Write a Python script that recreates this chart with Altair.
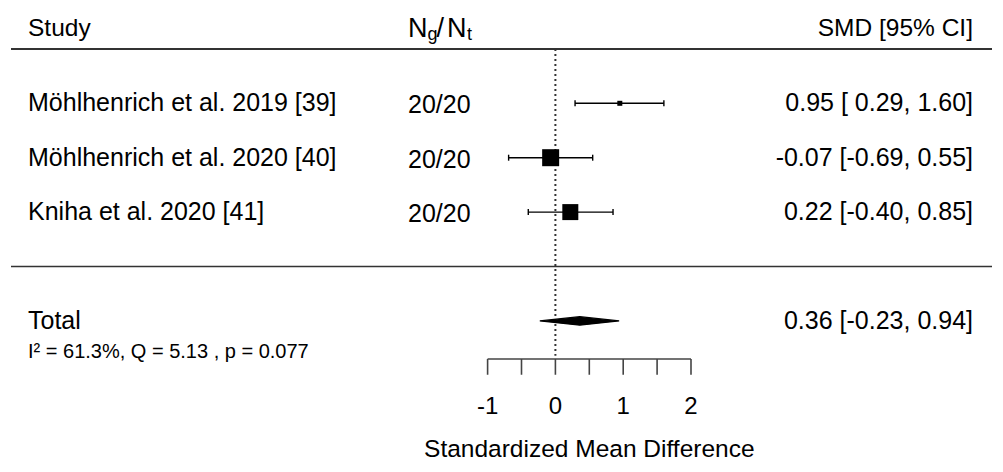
import altair as alt
import pandas as pd

# ---------------- data ----------------
studies = ["Möhlhenrich et al. 2019 [39]", "Möhlhenrich et al. 2020 [40]", "Kniha et al. 2020 [41]"]
n_ratio = ["20/20", "20/20", "20/20"]
smd = [0.95, -0.07, 0.22]
ci_low = [0.29, -0.69, -0.40]
ci_high = [1.60, 0.55, 0.85]
weight = [4.4, 50.7, 44.9]

total_label = "Total"
total_smd = 0.36
total_low = -0.23
total_high = 0.94
het_text = "I² = 61.3%, Q = 5.13 , p  = 0.077"

tick_values = [-1, -0.5, 0, 0.5, 1, 1.5, 2]
label_values = [-1, 0, 1, 2]
tick_labels = ["-1", "0", "1", "2"]
axis_title = "Standardized Mean Difference"

# ---------------- layout (style) ----------------
W, H = 987, 448
PX_PER_UNIT = 67.8
PX_OF_MINUS1 = 479.6
ROW_PX = 54.4
ROW1_PX = 95.3
xmin = -1 - PX_OF_MINUS1 / PX_PER_UNIT
xmax = -1 + (W - PX_OF_MINUS1) / PX_PER_UNIT
ymin = 1 - ROW1_PX / ROW_PX
ymax = 1 + (H - ROW1_PX) / ROW_PX

FONT = "Liberation Sans"
FS = 25
XS = alt.Scale(domain=[xmin, xmax], nice=False, zero=False)
YS = alt.Scale(domain=[ymin, ymax], nice=False, zero=False, reverse=True)


def X(f):
    return alt.X(f, type="quantitative", scale=XS, axis=None)


def Y(f):
    return alt.Y(f, type="quantitative", scale=YS, axis=None)


study_rows = [1, 2, 3]
TOTAL_ROW = 5
HEADER_LINE_ROW = 0
SEP_ROW = 4
HET_ROW = 5.57
AXIS_ROW = 5.70
TICK_END_ROW = 5.99
TICKLAB_ROW = 6.59
TITLE_ROW = 7.37
ZERO_END_ROW = 5.64
CAP_HALF = 0.055
DIAM_HALF = 0.078

df = pd.DataFrame({
    "study": studies, "n": n_ratio, "smd": smd, "lo": ci_low, "hi": ci_high,
    "w": weight, "row": study_rows,
})
df["ci"] = [f"{m:.2f} [{l:5.2f}, {h:.2f}]" for m, l, h in zip(smd, ci_low, ci_high)]

tot = pd.DataFrame({
    "label": [total_label], "row": [TOTAL_ROW],
    "ci": [f"{total_smd:.2f} [{total_low:5.2f}, {total_high:.2f}]"],
})
diam = pd.DataFrame({
    "x": [total_low, total_smd, total_high],
    "half": [0.0, DIAM_HALF, 0.0],
    "row": [TOTAL_ROW] * 3,
})

layers = []

# horizontal separator lines
lines = pd.DataFrame({"row": [HEADER_LINE_ROW, SEP_ROW], "sw": [2.0, 1.6]})
layers.append(
    alt.Chart(lines).mark_rule(color="#333333").encode(
        x=alt.value(3), x2=alt.value(984), y=Y("row"),
        strokeWidth=alt.StrokeWidth("sw:Q", scale=None),
    )
)

# dotted null line
zero = pd.DataFrame({"x": [0], "r1": [HEADER_LINE_ROW], "r2": [ZERO_END_ROW]})
layers.append(
    alt.Chart(zero).mark_rule(color="#333333", strokeWidth=2, strokeDash=[2, 3]).encode(
        x=X("x"), y=Y("r1"), y2=alt.Y2("r2")
    )
)

# CI whiskers
layers.append(
    alt.Chart(df).mark_rule(color="black", strokeWidth=1.4).encode(
        x=X("lo"), x2=alt.X2("hi"), y=Y("row")
    )
)
# caps
layers.append(
    alt.Chart(df).transform_fold(["lo", "hi"], as_=["end", "v"]).transform_calculate(
        a=f"datum.row - {CAP_HALF}", b=f"datum.row + {CAP_HALF}"
    ).mark_rule(color="black", strokeWidth=1.4).encode(
        x=X("v"), y=Y("a"), y2=alt.Y2("b")
    )
)
# squares
layers.append(
    alt.Chart(df).mark_square(color="black", filled=True, opacity=1).encode(
        x=X("smd"), y=Y("row"),
        size=alt.Size("w:Q", scale=alt.Scale(domain=[0, max(weight)], range=[0, 17 ** 2]), legend=None),
    )
)
# diamond
layers.append(
    alt.Chart(diam).transform_calculate(
        a="datum.row - datum.half", b="datum.row + datum.half"
    ).mark_area(color="black", orient="vertical", stroke="black", strokeWidth=1.2).encode(
        x=X("x"), y=Y("a"), y2=alt.Y2("b")
    )
)

# custom x axis
axl = pd.DataFrame({"a": [min(tick_values)], "b": [max(tick_values)], "row": [AXIS_ROW]})
layers.append(
    alt.Chart(axl).mark_rule(color="#444444", strokeWidth=1.6).encode(
        x=X("a"), x2=alt.X2("b"), y=Y("row")
    )
)
ticks = pd.DataFrame({"v": tick_values, "r1": [AXIS_ROW] * len(tick_values), "r2": [TICK_END_ROW] * len(tick_values)})
layers.append(
    alt.Chart(ticks).mark_rule(color="#444444", strokeWidth=1.6).encode(
        x=X("v"), y=Y("r1"), y2=alt.Y2("r2")
    )
)
tlab = pd.DataFrame({"v": label_values, "lab": tick_labels, "row": [TICKLAB_ROW] * len(label_values)})
layers.append(
    alt.Chart(tlab).mark_text(font=FONT, fontSize=24, color="black", baseline="middle", align="center").encode(
        x=X("v"), y=Y("row"), text="lab:N"
    )
)
ttl = pd.DataFrame({"v": [(min(tick_values) + max(tick_values)) / 2], "t": [axis_title], "row": [TITLE_ROW]})
layers.append(
    alt.Chart(ttl).mark_text(font=FONT, fontSize=24.5, color="black", baseline="middle", align="center").encode(
        x=X("v"), y=Y("row"), text="t:N"
    )
)

# study text columns
layers.append(
    alt.Chart(df).mark_text(font=FONT, fontSize=FS, color="black", baseline="middle", align="left").encode(
        x=alt.value(20), y=Y("row"), text="study:N"
    )
)
layers.append(
    alt.Chart(df).mark_text(font=FONT, fontSize=FS, color="black", baseline="middle", align="left", dy=2).encode(
        x=alt.value(400), y=Y("row"), text="n:N"
    )
)
layers.append(
    alt.Chart(df).mark_text(font=FONT, fontSize=FS, color="black", baseline="middle", align="right").encode(
        x=alt.value(965), y=Y("row"), text="ci:N"
    )
)
# total row
layers.append(
    alt.Chart(tot).mark_text(font=FONT, fontSize=FS, color="black", baseline="middle", align="left").encode(
        x=alt.value(20), y=Y("row"), text="label:N"
    )
)
layers.append(
    alt.Chart(tot).mark_text(font=FONT, fontSize=FS, color="black", baseline="middle", align="right").encode(
        x=alt.value(965), y=Y("row"), text="ci:N"
    )
)
het = pd.DataFrame({"t": [het_text], "row": [HET_ROW]})
layers.append(
    alt.Chart(het).mark_text(font=FONT, fontSize=20, color="black", baseline="middle", align="left").encode(
        x=alt.value(20), y=Y("row"), text="t:N"
    )
)


# header texts
def head(text, px, py, size, align="left"):
    return alt.Chart(pd.DataFrame({"t": [text]})).mark_text(
        font=FONT, fontSize=size, color="black", baseline="alphabetic", align=align
    ).encode(x=alt.value(px), y=alt.value(py), text="t:N")


layers += [
    head("Study", 20, 28, 24.5),
    head("SMD [95% CI]", 965, 28, 24.5, "right"),
    head("N", 400, 29, 27),
    head("g", 419.5, 32, 18),
    head("/", 428.5, 29, 27),
    head("N", 439, 29, 27),
    head("t", 459, 32, 18),
]

chart = alt.layer(*layers).properties(
    width=W, height=H,
    padding={"left": 0, "top": 0, "right": 0, "bottom": 8},
    autosize=alt.AutoSizeParams(type="none"),
    background="white",
).configure_view(stroke=None)

chart.save("out.html", embed_options={"renderer": "svg", "actions": False})
